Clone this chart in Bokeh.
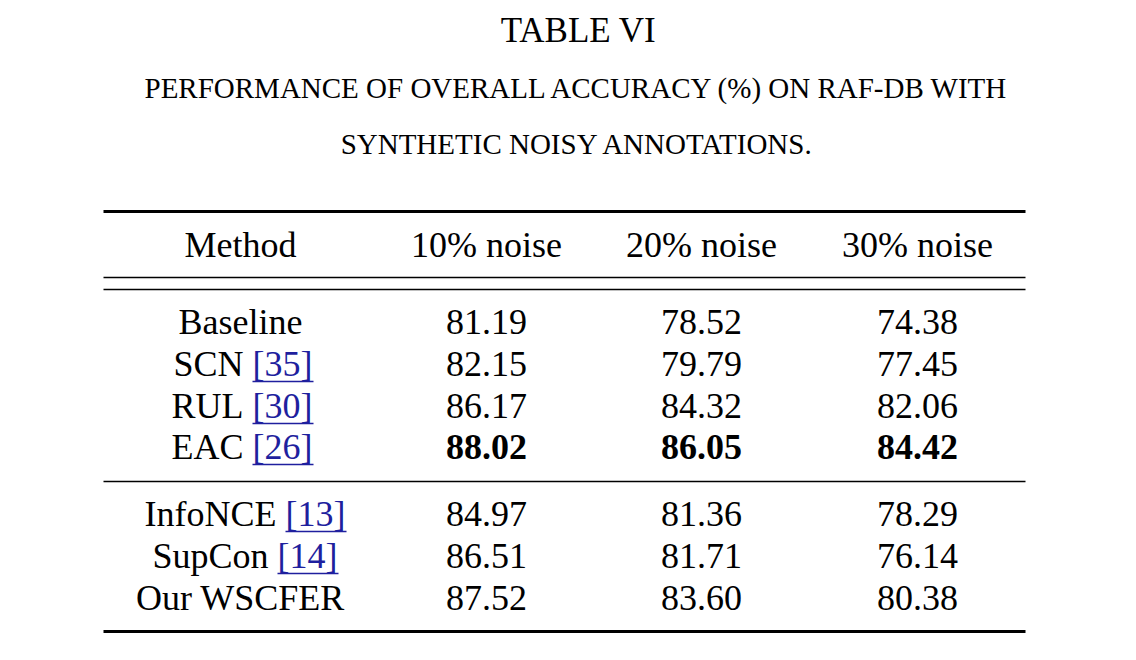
from bokeh.plotting import figure
from bokeh.models import Range1d
from bokeh.core.properties import value
from bokeh.embed import file_html
from bokeh.resources import INLINE

title = "TABLE VI"
caption = ["PERFORMANCE OF OVERALL ACCURACY (%) ON RAF-DB WITH",
           "SYNTHETIC NOISY ANNOTATIONS."]
header = ["Method", "10% noise", "20% noise", "30% noise"]
methods = ["Baseline", "SCN", "RUL", "EAC", "InfoNCE", "SupCon", "Our WSCFER"]
refs = ["", "[35]", "[30]", "[26]", "[13]", "[14]", ""]
noise10 = ["81.19", "82.15", "86.17", "88.02", "84.97", "86.51", "87.52"]
noise20 = ["78.52", "79.79", "84.32", "86.05", "81.36", "81.71", "83.60"]
noise30 = ["74.38", "77.45", "82.06", "84.42", "78.29", "76.14", "80.38"]
best_row = 3

FONT = value("Liberation Serif")
BLUE = "#1f1f9e"

p = figure(width=1120, height=644, output_backend="svg", toolbar_location=None,
           x_range=Range1d(0, 1120), y_range=Range1d(644, 0))
p.axis.visible = False
p.grid.visible = False
p.outline_line_color = None
p.min_border = 0

def txt(x, y, s, size="36px", align="center", style="normal", color="black"):
    p.text(x=[x], y=[y], text=[s], text_font=FONT, text_font_size=size,
           text_align=align, text_baseline="middle", text_font_style=style,
           text_color=color)

txt(578, 30, title, "35px")
txt(577, 87, caption[0], "29px")
txt(577, 143, caption[1], "29px")

# rules
p.segment(x0=[103], y0=[211], x1=[1025], y1=[211], line_width=3, line_color="black")
p.segment(x0=[103, 103, 103], y0=[277, 289, 481], x1=[1025, 1025, 1025],
          y1=[277, 289, 481], line_width=1.6, line_color="black")
p.segment(x0=[103], y0=[631], x1=[1025], y1=[631], line_width=3, line_color="black")

col_x = [240, 486, 701, 917]
for cx, h in zip(col_x, header):
    txt(cx, 244, h)

row_y = [321, 363, 405, 446, 513, 555, 597]
ref_start = [0, 252, 252, 252, 285, 277, 0]
for i, y in enumerate(row_y):
    if refs[i]:
        txt(ref_start[i] - 9, y, methods[i], align="right")
        txt(ref_start[i], y, refs[i], align="left", color=BLUE)
        p.segment(x0=[ref_start[i]], y0=[y + 18], x1=[ref_start[i] + 61], y1=[y + 18],
                  line_width=1.5, line_color=BLUE)
    else:
        txt(col_x[0], y, methods[i])
    style = "bold" if i == best_row else "normal"
    for cx, vals in zip(col_x[1:], [noise10, noise20, noise30]):
        txt(cx, y, vals[i], style=style)

open("out.html", "w").write(file_html(p, INLINE))
